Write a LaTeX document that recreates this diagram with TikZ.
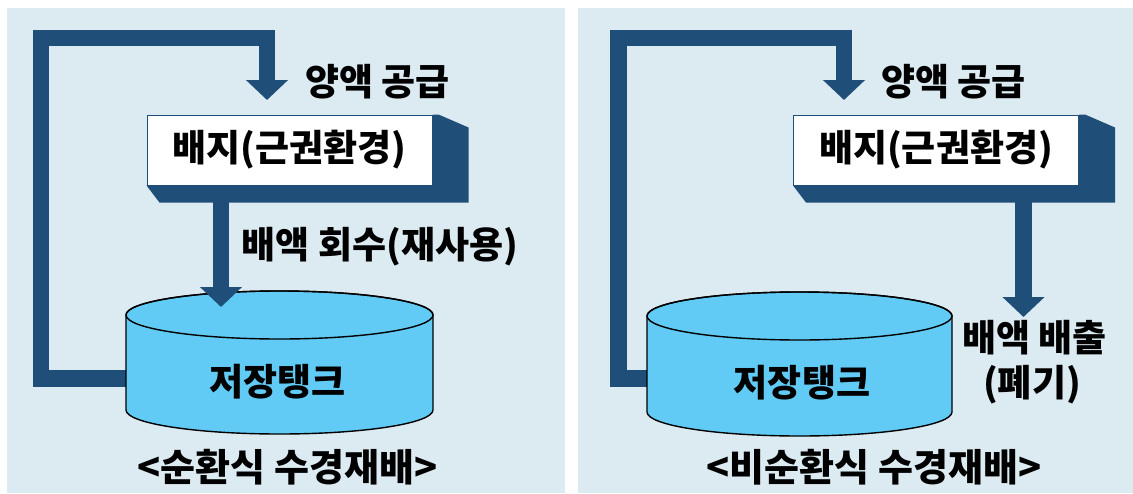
\documentclass[tikz,border=0pt]{standalone}
\usepackage{fontspec}
\newfontfamily\kr{Noto Sans CJK KR}
\usetikzlibrary{arrows.meta,calc}
\definecolor{panelbg}{RGB}{220,234,241}
\definecolor{pipeblue}{RGB}{31,78,121}
\definecolor{tankfill}{RGB}{97,203,245}
\begin{document}
\begin{tikzpicture}[x=1pt,y=-1pt,
  lbl/.style={font=\kr\bfseries\fontsize{37}{40}\selectfont, inner sep=0pt, text=black},
  captxt/.style={lbl, font=\kr\bfseries\fontsize{38}{41}\selectfont},
  pipe/.style={draw=pipeblue, line width=16.5pt, line join=miter, miter limit=10},
  pipearrow/.style={pipe, -{Triangle[width=41pt,length=20pt]}},
  bedbox/.style={lbl, draw=pipeblue, line width=1pt, fill=white, minimum width=285pt, minimum height=70pt},
  tankbody/.style={draw=none, minimum width=307pt, minimum height=95pt, inner sep=0pt},
  tankline/.style={draw=black, line width=1.4pt},
]
\useasboundingbox (0,0) rectangle (1133,493);
\fill[white] (0,0) rectangle (1133,493);
\fill[panelbg] (7,8) rectangle (565,493);
\fill[panelbg] (578,8) rectangle (1133,493);

% ---------------- left panel ----------------
\node[tankbody] (tankL) at (279.5,362.5) {};
\coordinate (feedL) at (267,100);
\draw[pipearrow] ($(tankL.west)+(0,16)$) -- (41,378.5) -- (41,38) -- (feedL |- 0,38) -- (feedL);
\filldraw[tankline, fill=tankfill] (126,315) -- (126,410)
  arc[start angle=180, end angle=360, x radius=153.5pt, y radius=24pt] -- (433,315)
  arc[start angle=0, end angle=180, x radius=153.5pt, y radius=24pt] -- cycle;
\draw[tankline] (279.5,315) ellipse [x radius=153.5pt, y radius=24pt];
\node[lbl] (tankLtxt) at (277.5,382) {저장탱크};

\node[bedbox] (bedL) at (289.5,150) {배지(근권환경)};
\fill[pipeblue] (bedL.south west) -- ++(13,17) -- ($(bedL.south east)+(36,17)$)
  -- ($(bedL.north east)+(36,13)$) -- ($(bedL.north east)+(6,0)$) -- (bedL.north east)
  -- (bedL.south east) -- cycle;
\coordinate (retL) at (221,307);
\draw[pipearrow] (retL |- bedL.south) -- (retL);

\node[lbl] (supL) at (377.5,82) {양액 공급};
\node[lbl] (recL) at (380,247) {배액 회수(재사용)};
\node[captxt] (capL) at (287.5,467) {<순환식 수경재배>};

% ---------------- right panel ----------------
\node[tankbody, minimum width=305pt] (tankR) at (799.5,364) {};
\coordinate (feedR) at (844,100);
\draw[pipearrow] ($(tankR.west)+(0,14.5)$) -- (618.5,378.5) -- (618.5,38) -- (feedR |- 0,38) -- (feedR);
\filldraw[tankline, fill=tankfill] (647,316) -- (647,412)
  arc[start angle=180, end angle=360, x radius=152.5pt, y radius=24pt] -- (952,316)
  arc[start angle=0, end angle=180, x radius=152.5pt, y radius=24pt] -- cycle;
\draw[tankline] (799.5,316) ellipse [x radius=152.5pt, y radius=24pt];
\node[lbl] (tankRtxt) at (802,383) {저장탱크};

\node[bedbox] (bedR) at (936,150) {배지(근권환경)};
\fill[pipeblue] (bedR.south west) -- ++(13,17) -- ($(bedR.south east)+(36,17)$)
  -- ($(bedR.north east)+(36,13)$) -- ($(bedR.north east)+(6,0)$) -- (bedR.north east)
  -- (bedR.south east) -- cycle;
\coordinate (drnR) at (1023.5,317);
\draw[pipearrow] (drnR |- bedR.south) -- (drnR);

\node[lbl] (supR) at (953.5,82) {양액 공급};
\node[lbl] (drnRtxt) at (1034.5,338) {배액 배출};
\node[lbl] (wasteR) at (1032,385) {(폐기)};
\node[captxt] (capR) at (874,467) {<비순환식 수경재배>};
\end{tikzpicture}
\end{document}
